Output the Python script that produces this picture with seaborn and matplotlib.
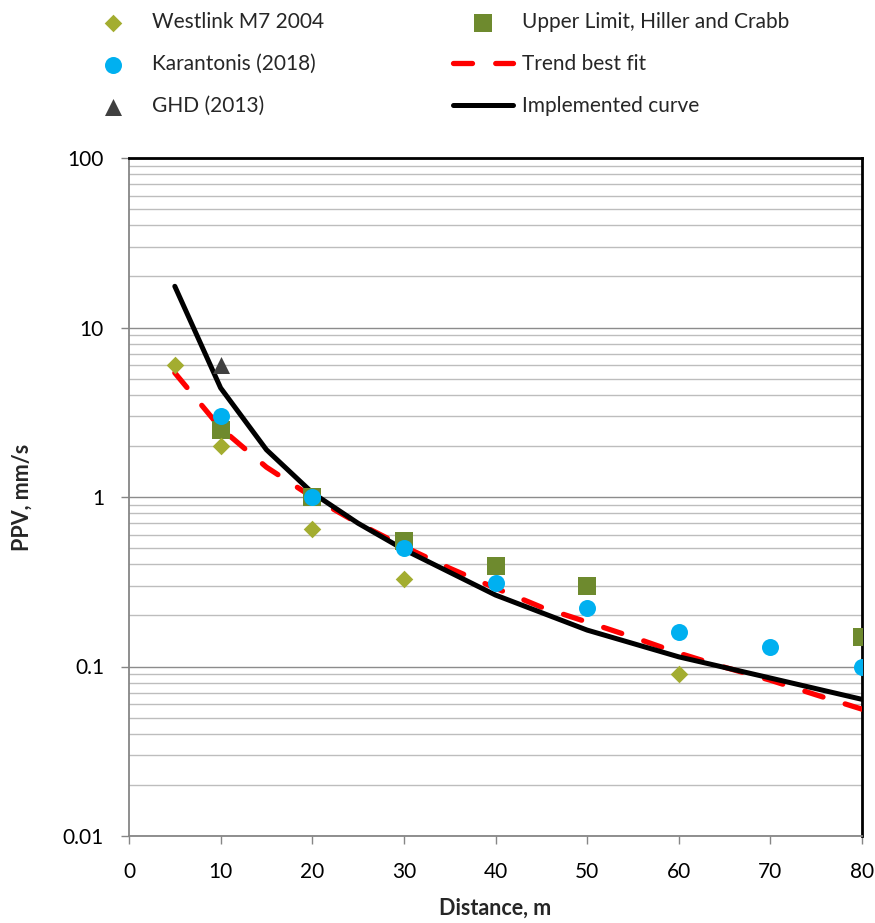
import numpy as np
import pandas as pd
import matplotlib
matplotlib.use("Agg")
import matplotlib.pyplot as plt
from matplotlib.ticker import FixedLocator, FixedFormatter, LogLocator, NullFormatter
import seaborn as sns

# Measured peak particle velocity data
westlink_x = [5, 10, 20, 30, 60]
westlink_y = [6.0, 2.0, 0.65, 0.33, 0.09]

karantonis_x = [10, 20, 30, 40, 50, 60, 70, 80]
karantonis_y = [3.0, 1.0, 0.5, 0.31, 0.22, 0.16, 0.13, 0.10]

ghd_x = [10]
ghd_y = [6.0]

upper_x = [10, 20, 30, 40, 50, 80]
upper_y = [2.5, 1.0, 0.55, 0.39, 0.30, 0.15]

# Fitted and adopted curves
trend_x = [5, 10, 15, 20, 25, 30, 35, 40, 45, 50, 55, 60, 65, 70, 75, 80]
trend_y = [5.4, 2.55, 1.5, 1.0, 0.70, 0.51, 0.38, 0.29, 0.224, 0.183, 0.149,
           0.12, 0.099, 0.083, 0.068, 0.056]

impl_x = [5, 10, 15, 20, 25, 30, 40, 50, 60, 70, 80]
impl_y = [17.5, 4.4, 1.9, 1.06, 0.70, 0.49, 0.264, 0.164, 0.114, 0.0855, 0.064]

x_ticks = [0, 10, 20, 30, 40, 50, 60, 70, 80]
y_ticks = [0.01, 0.1, 1, 10, 100]
y_tick_labels = ["0.01", "0.1", "1", "10", "100"]

sns.set_style("white")
plt.rcParams["font.family"] = ["Lato", "DejaVu Sans"]

FS = 15

fig = plt.figure(figsize=(8.75, 9.23), dpi=100)
ax = fig.add_axes([129 / 875, 1 - 836 / 923, (862 - 129) / 875, (836 - 158) / 923])

ax.set_yscale("log")
ax.set_xlim(0, 80)
ax.set_ylim(0.01, 100)

# Horizontal grid (major and minor)
ax.yaxis.set_minor_locator(LogLocator(base=10, subs=np.arange(2, 10)))
ax.yaxis.set_minor_formatter(NullFormatter())
ax.grid(which="major", axis="y", color="#8c8c8c", lw=1.0, zorder=0)
ax.grid(which="minor", axis="y", color="#bdbdbd", lw=1.0, zorder=0)
ax.grid(False, axis="x", which="both")
ax.set_axisbelow(True)

trend_df = pd.DataFrame({"x": trend_x, "y": trend_y})
impl_df = pd.DataFrame({"x": impl_x, "y": impl_y})

sns.lineplot(data=trend_df, x="x", y="y", ax=ax, color="#ff0000", lw=3.8,
             estimator=None, sort=False, zorder=3, label="Trend best fit")
trend_line = ax.lines[-1]
trend_line.set_dashes([3.6, 4.4])
trend_line.set_dash_capstyle("round")

sns.lineplot(data=impl_df, x="x", y="y", ax=ax, color="black", lw=3.6,
             estimator=None, sort=False, zorder=4, label="Implemented curve")

ax.scatter(upper_x, upper_y, marker="s", s=150, color="#6e8a2e",
           linewidths=0, zorder=5, label="Upper Limit, Hiller and Crabb")
sns.scatterplot(x=westlink_x, y=westlink_y, ax=ax, marker="D", s=80,
                color="#a3ad30", linewidth=0, zorder=6, label="Westlink M7 2004")
sns.scatterplot(x=karantonis_x, y=karantonis_y, ax=ax, marker="o", s=150,
                color="#00b0f0", linewidth=0, zorder=7, label="Karantonis (2018)")
sns.scatterplot(x=ghd_x, y=ghd_y, ax=ax, marker="^", s=150,
                color="#404040", linewidth=0, zorder=8, label="GHD (2013)")

handles, labels = ax.get_legend_handles_labels()
ax.get_legend().remove()
order = ["Westlink M7 2004", "Karantonis (2018)", "GHD (2013)",
         "Upper Limit, Hiller and Crabb", "Trend best fit", "Implemented curve"]
hmap = dict(zip(labels, handles))
fig.legend([hmap[k] for k in order], order, ncol=2, loc="upper left",
           bbox_to_anchor=(83 / 875, 1 - 12 / 923), frameon=False,
           fontsize=FS, handlelength=2.9, handletextpad=0.4,
           columnspacing=6.2, labelspacing=1.06, borderpad=0, borderaxespad=0)

# Axes ticks and labels
ax.xaxis.set_major_locator(FixedLocator(x_ticks))
ax.set_xticklabels([str(v) for v in x_ticks])
ax.yaxis.set_major_locator(FixedLocator(y_ticks))
ax.yaxis.set_major_formatter(FixedFormatter(y_tick_labels))
ax.tick_params(axis="both", which="major", direction="out", length=6,
               width=1, color="#868686", labelsize=FS, labelcolor="black")
ax.tick_params(axis="x", bottom=True, pad=13)
ax.tick_params(axis="y", left=True, pad=12)
ax.tick_params(which="minor", left=False, bottom=False)

ax.set_xlabel("Distance, m", fontsize=15.5, fontweight="bold", va="center")
ax.set_ylabel("PPV, mm/s", fontsize=15.5, fontweight="bold", va="center")
ax.xaxis.set_label_coords(0.5, (836 - 908) / 678)
ax.yaxis.set_label_coords((22 - 129) / 733, 0.5)

for side in ["left", "bottom"]:
    ax.spines[side].set_color("#868686")
    ax.spines[side].set_linewidth(1.3)
for side in ["top", "right"]:
    ax.spines[side].set_color("black")
    ax.spines[side].set_linewidth(2.0)
    ax.spines[side].set_visible(True)

fig.savefig("out.png", dpi=100, facecolor="white")
